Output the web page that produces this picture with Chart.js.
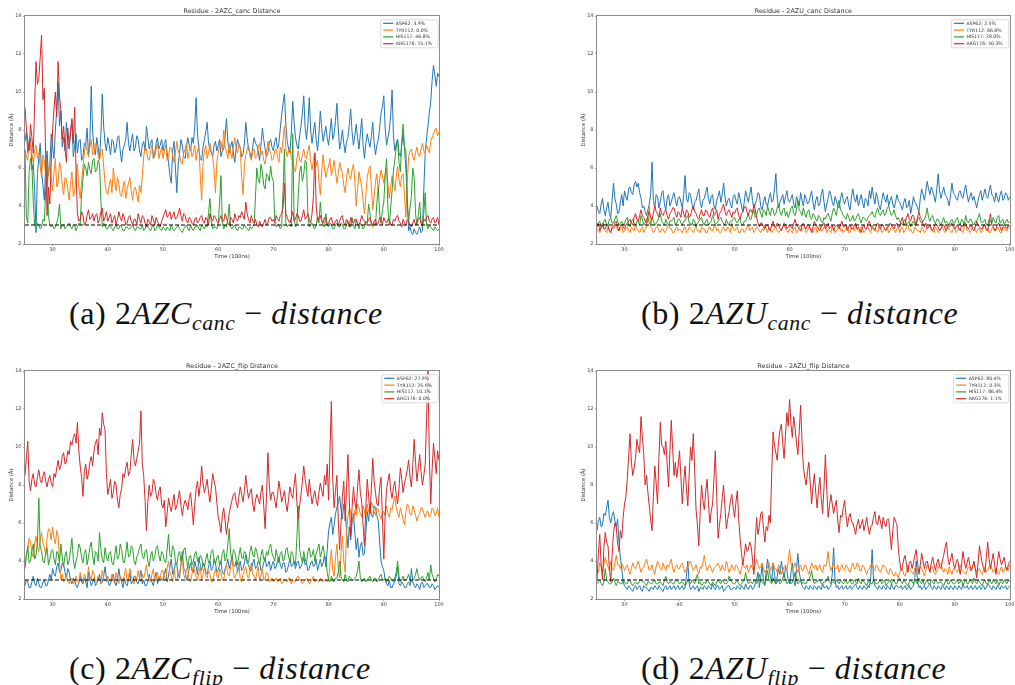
<!DOCTYPE html>
<html>
<head>
<meta charset="utf-8">
<title>Residue distance panels</title>
<script src="https://cdn.jsdelivr.net/npm/chart.js@4.4.1/dist/chart.umd.min.js"></script>
<style>
  html, body { margin: 0; padding: 0; background: #fff; }
  #page { position: relative; width: 1015px; height: 685px; overflow: hidden; background: #fff; }
  canvas { position: absolute; }
  .cap { position: absolute; font-family: "Liberation Serif", "DejaVu Serif", serif; font-size: 32px; line-height: 32px; letter-spacing: 0.6px; color: #111; white-space: nowrap; }
  .cap i { font-style: italic; }
  .cap sub { font-style: italic; font-size: 0.68em; vertical-align: -0.28em; line-height: 0; }
</style>
</head>
<body>
<div id="page">
  <canvas id="pA" width="445" height="262" style="left:0px;top:0px;width:445px;height:262px"></canvas>
  <canvas id="pB" width="444" height="262" style="left:571px;top:0px;width:444px;height:262px"></canvas>
  <canvas id="pC" width="445" height="262" style="left:0px;top:355px;width:445px;height:262px"></canvas>
  <canvas id="pD" width="444" height="262" style="left:571px;top:355px;width:444px;height:262px"></canvas>
  <div class="cap" style="left:69px;top:297px">(a) 2<i>AZC</i><sub>canc</sub> − <i>distance</i></div>
  <div class="cap" style="left:641px;top:297px">(b) 2<i>AZU</i><sub>canc</sub> − <i>distance</i></div>
  <div class="cap" style="left:69px;top:652px">(c) 2<i>AZC</i><sub>flip</sub> − <i>distance</i></div>
  <div class="cap" style="left:641px;top:652px">(d) 2<i>AZU</i><sub>flip</sub> − <i>distance</i></div>
</div>
<script>
// Time axis (units of 100 ns): one sample every 0.25 from 25 to 100
const tStart = 25, tStep = 0.25, tCount = 301;
const xTickValues = [30, 40, 50, 60, 70, 80, 90, 100];
const yTickValues = [2, 4, 6, 8, 10, 12, 14];
const cutoff = 3; // H-bond cutoff distance (Å)

const residues = ['ASP62', 'TYR112', 'HIS117', 'ARG176'];
const residueColors = ['#1f77b4', '#ff7f0e', '#2ca02c', '#d62728'];

const panelTitles = [
  'Residue - 2AZC_canc Distance',
  'Residue - 2AZU_canc Distance',
  'Residue - 2AZC_flip Distance',
  'Residue - 2AZU_flip Distance'
];
const occupancyAzcCanc = ['3.9%', '0.0%', '46.8%', '15.1%'];
const occupancyAzuCanc = ['2.5%', '86.8%', '28.0%', '50.3%'];
const occupancyAzcFlip = ['27.9%', '25.9%', '10.1%', '0.0%'];
const occupancyAzuFlip = ['80.4%', '0.3%', '86.4%', '1.1%'];

// ---- 2AZC_canc ----
const azcCancAsp62 = [
  7.4, 7.9, 6.8, 7.1, 7.6, 5.9, 6.2, 4.8, 2.6, 5.7,
  6.5, 7.3, 5.8, 5.1, 4.3, 6.1, 6.9, 5.6, 6.2, 7.8,
  7.2, 6.5, 8.0, 9.1, 10.5, 8.2, 9.0, 7.1, 7.6, 6.9,
  8.4, 7.3, 7.0, 7.9, 8.5, 6.6, 7.2, 7.8, 6.8, 7.4,
  7.5, 6.4, 6.6, 7.3, 7.2, 8.1, 6.7, 7.4, 10.3, 8.0,
  7.0, 6.7, 7.6, 7.1, 6.5, 7.7, 9.9, 8.2, 7.3, 6.9,
  7.6, 7.2, 6.7, 7.5, 7.4, 6.8, 7.0, 7.6, 7.7, 6.9,
  6.3, 7.0, 7.2, 7.5, 8.4, 7.3, 6.9, 7.4, 7.8, 6.9,
  7.1, 7.7, 7.5, 6.9, 6.6, 7.2, 7.4, 6.9, 8.2, 7.6,
  7.0, 7.3, 7.5, 6.5, 6.8, 7.3, 7.6, 7.0, 7.2, 7.5,
  6.9, 7.3, 7.5, 6.8, 6.3, 5.6, 5.2, 6.9, 7.4, 6.0,
  4.7, 6.2, 6.8, 7.5, 7.2, 6.6, 6.5, 7.1, 7.6, 7.2,
  6.9, 7.6, 7.3, 8.2, 9.7, 7.8, 7.0, 6.5, 6.4, 7.1,
  7.5, 7.9, 8.4, 7.3, 7.0, 6.8, 6.6, 7.2, 7.4, 6.9,
  7.2, 7.5, 6.6, 6.9, 7.0, 7.7, 8.6, 7.4, 6.8, 7.1,
  7.4, 6.8, 6.3, 7.0, 7.5, 7.2, 7.1, 6.6, 6.7, 7.3,
  8.4, 7.6, 7.0, 6.8, 6.5, 7.1, 7.6, 7.3, 7.2, 6.9,
  6.4, 7.2, 8.1, 7.5, 7.0, 6.6, 6.8, 7.3, 7.5, 7.1,
  6.9, 7.4, 7.6, 7.0, 7.3, 8.1, 8.8, 9.4, 9.9, 8.3,
  7.4, 7.0, 6.8, 7.9, 9.5, 8.4, 7.6, 7.2, 7.0, 7.7,
  8.2, 8.9, 9.8, 8.1, 7.5, 8.3, 9.7, 8.0, 7.3, 7.9,
  8.4, 7.5, 6.9, 7.8, 9.0, 8.1, 7.4, 7.8, 8.2, 7.6,
  7.2, 7.9, 8.6, 7.5, 7.8, 8.5, 9.4, 8.1, 7.0, 7.4,
  8.0, 7.3, 6.8, 7.4, 7.6, 8.3, 9.1, 7.9, 7.2, 7.7,
  8.3, 7.6, 7.0, 7.8, 8.6, 7.2, 6.5, 7.3, 7.8, 7.4,
  7.1, 7.7, 8.4, 7.3, 6.7, 7.2, 7.5, 8.1, 8.9, 9.2,
  9.8, 8.1, 7.2, 7.6, 8.0, 8.8, 10.1, 7.7, 6.9, 7.3,
  7.5, 6.8, 6.6, 7.2, 7.8, 7.1, 6.9, 4.5, 2.7, 2.9,
  2.6, 2.5, 2.8, 2.6, 2.5, 2.7, 2.9, 2.6, 2.7, 4.9,
  6.8, 7.6, 8.2, 8.9, 9.5, 10.6, 11.4, 10.9, 10.3, 11.0,
  10.8
];
const azcCancTyr112 = [
  7.0, 6.6, 6.4, 7.5, 7.3, 6.8, 6.2, 6.9, 7.2, 6.5,
  6.8, 6.1, 5.5, 6.7, 6.4, 5.6, 5.0, 5.8, 6.2, 5.5,
  4.8, 5.7, 6.5, 5.0, 5.2, 6.3, 6.0, 5.1, 4.6, 5.5,
  5.4, 4.9, 4.3, 5.2, 5.8, 4.5, 4.8, 5.6, 6.2, 5.0,
  4.4, 5.3, 6.0, 6.8, 7.2, 6.9, 6.6, 7.1, 7.5, 6.7,
  6.8, 7.3, 7.2, 6.6, 6.4, 6.9, 7.0, 6.1, 5.2, 4.7,
  4.6, 5.1, 5.4, 4.7, 6.0, 5.3, 4.8, 5.5, 5.2, 4.6,
  4.5, 5.0, 5.3, 4.4, 4.9, 5.2, 5.5, 4.8, 4.3, 4.9,
  5.0, 4.6, 4.2, 5.1, 4.7, 5.6, 6.6, 7.1, 7.0, 6.5,
  6.4, 6.9, 7.2, 6.7, 6.6, 7.0, 7.3, 6.5, 6.8, 7.1,
  6.5, 6.9, 7.2, 6.4, 6.6, 7.1, 7.0, 6.7, 6.3, 6.8,
  7.4, 6.9, 6.7, 6.3, 6.2, 6.8, 7.0, 7.3, 6.5, 6.9,
  7.1, 6.6, 6.8, 7.2, 6.4, 6.9, 7.2, 5.6, 4.3, 6.2,
  6.9, 7.2, 6.5, 6.8, 7.3, 6.9, 6.6, 5.9, 4.7, 6.3,
  6.8, 7.2, 7.4, 6.9, 8.0, 7.1, 6.9, 6.5, 7.3, 6.8,
  6.5, 7.1, 7.6, 7.0, 6.8, 7.3, 7.0, 5.5, 4.6, 6.1,
  6.7, 7.0, 7.2, 6.6, 6.4, 6.9, 7.0, 6.5, 6.6, 7.1,
  7.3, 6.7, 6.9, 6.4, 6.2, 6.8, 7.4, 7.0, 6.8, 6.4,
  6.5, 6.9, 7.0, 6.6, 6.3, 7.1, 6.8, 7.5, 8.2, 7.0,
  6.6, 6.9, 7.1, 6.5, 6.4, 6.0, 5.8, 6.5, 6.9, 6.4,
  6.3, 6.7, 7.0, 6.6, 6.5, 6.9, 7.2, 6.3, 5.9, 6.4,
  6.8, 6.1, 6.4, 5.3, 4.6, 5.8, 6.7, 6.0, 5.5, 5.9,
  6.1, 6.5, 5.6, 5.9, 6.4, 5.8, 5.2, 5.7, 6.3, 6.0,
  5.7, 5.1, 4.7, 5.5, 6.0, 5.6, 5.4, 5.9, 6.2, 5.3,
  4.0, 4.9, 5.8, 5.4, 5.0, 4.3, 3.6, 4.6, 5.5, 5.9,
  6.1, 5.0, 3.8, 4.5, 5.3, 5.7, 4.8, 5.4, 5.9, 5.6,
  5.2, 5.7, 6.0, 5.1, 4.4, 5.0, 5.6, 5.3, 4.8, 5.5,
  6.1, 5.4, 5.0, 5.6, 5.7, 4.6, 3.4, 5.2, 6.6, 6.9,
  7.0, 6.6, 6.4, 6.8, 7.1, 6.7, 6.6, 7.0, 7.3, 6.9,
  6.8, 7.2, 7.0, 6.8, 7.4, 7.6, 7.8, 8.0, 8.1, 7.7,
  7.9
];
const azcCancHis117 = [
  6.9, 3.4, 3.1, 5.8, 6.5, 6.1, 4.2, 3.0, 2.9, 3.1,
  3.0, 2.8, 2.9, 3.3, 3.2, 4.8, 6.4, 3.5, 3.0, 2.9,
  3.0, 2.8, 2.9, 3.1, 3.4, 4.1, 2.8, 3.0, 3.0, 2.8,
  2.9, 3.0, 3.1, 2.9, 2.8, 3.0, 3.0, 2.7, 2.9, 3.1,
  3.0, 4.6, 5.4, 6.2, 6.0, 5.6, 6.3, 5.9, 5.7, 6.4,
  6.5, 5.8, 5.9, 6.4, 6.2, 4.3, 2.9, 3.1, 3.0, 2.8,
  2.8, 3.0, 2.9, 2.8, 2.7, 2.9, 3.0, 2.8, 2.8, 3.0,
  2.9, 2.7, 2.7, 2.9, 2.9, 2.8, 2.8, 2.9, 3.0, 2.8,
  2.7, 2.9, 2.9, 2.8, 2.8, 3.0, 2.7, 2.8, 3.0, 2.9,
  2.8, 2.7, 2.9, 3.0, 2.7, 2.8, 3.0, 2.9, 2.8, 2.7,
  2.9, 2.8, 2.7, 2.9, 2.8, 2.7, 3.0, 2.8, 2.7, 2.8,
  2.9, 3.0, 2.8, 2.7, 2.6, 2.8, 2.9, 3.0, 2.8, 2.7,
  3.0, 2.8, 2.7, 2.9, 2.9, 3.0, 2.8, 2.7, 3.0, 2.9,
  2.8, 3.0, 2.9, 3.6, 4.4, 3.2, 2.8, 2.9, 2.9, 2.8,
  3.0, 4.2, 5.6, 3.1, 2.8, 3.0, 2.9, 3.3, 4.1, 2.9,
  2.8, 2.9, 3.0, 2.8, 2.7, 2.9, 2.9, 2.8, 2.8, 3.0,
  2.9, 2.8, 2.7, 2.9, 2.8, 2.9, 3.0, 4.5, 6.0, 5.4,
  5.2, 6.2, 5.8, 5.1, 4.9, 5.7, 5.6, 5.3, 6.1, 5.5,
  5.3, 3.2, 2.9, 3.0, 3.0, 2.8, 2.9, 4.8, 7.0, 3.1,
  2.9, 3.0, 3.0, 2.9, 7.8, 3.3, 2.9, 3.0, 4.6, 5.8,
  6.1, 5.3, 5.7, 6.4, 6.3, 3.5, 2.9, 3.0, 3.1, 2.9,
  2.8, 3.0, 3.4, 3.1, 4.2, 3.3, 3.0, 2.9, 3.6, 3.0,
  2.9, 3.1, 3.0, 2.8, 2.8, 3.0, 3.1, 2.9, 2.9, 3.1,
  3.0, 2.8, 2.8, 3.0, 3.2, 2.9, 2.9, 3.4, 3.0, 2.8,
  3.3, 3.0, 2.8, 3.1, 3.0, 2.8, 2.9, 3.2, 3.1, 4.1,
  3.6, 3.0, 2.9, 3.1, 3.0, 4.2, 5.0, 3.6, 3.1, 3.8,
  4.2, 5.6, 6.5, 3.8, 3.0, 3.9, 4.8, 5.9, 6.4, 7.1,
  7.5, 6.3, 5.8, 7.4, 8.3, 7.0, 6.0, 4.1, 3.2, 3.9,
  4.5, 6.0, 5.5, 3.6, 3.0, 3.5, 4.2, 3.1, 2.9, 3.6,
  4.7, 3.0, 2.8, 3.0, 2.9, 2.8, 2.7, 2.9, 2.8, 2.7,
  2.8
];
const azcCancArg176 = [
  9.2, 8.1, 7.4, 6.9, 8.3, 7.6, 6.8, 9.4, 11.6, 10.4,
  10.7, 11.8, 13.0, 9.6, 10.2, 6.5, 3.5, 5.0, 4.1, 6.3,
  8.0, 9.1, 10.0, 8.7, 11.6, 9.8, 9.0, 7.5, 8.2, 7.0,
  6.3, 8.1, 7.2, 7.9, 8.6, 7.3, 9.2, 5.8, 3.6, 3.2,
  3.3, 3.7, 3.5, 3.0, 3.1, 3.5, 3.8, 3.3, 3.4, 3.6,
  3.2, 3.5, 3.6, 3.1, 3.3, 3.7, 3.9, 3.2, 3.4, 3.7,
  3.2, 3.4, 3.6, 3.1, 3.3, 3.5, 3.0, 3.3, 3.7, 3.4,
  3.2, 3.6, 3.4, 3.0, 3.1, 3.4, 3.5, 3.2, 3.0, 3.3,
  3.3, 3.0, 3.6, 3.3, 3.1, 3.5, 3.4, 3.1, 2.9, 3.3,
  3.2, 3.0, 3.5, 3.3, 3.0, 3.4, 3.2, 3.0, 2.9, 3.2,
  3.4, 3.6, 3.8, 3.4, 3.5, 3.7, 3.3, 3.5, 3.7, 3.3,
  3.4, 3.6, 3.9, 3.5, 3.2, 3.6, 3.5, 3.2, 3.1, 3.4,
  3.3, 3.1, 3.0, 3.3, 3.4, 3.1, 3.2, 3.4, 3.5, 3.2,
  3.1, 3.4, 3.3, 3.0, 3.6, 3.3, 3.2, 3.5, 3.4, 3.2,
  3.1, 3.3, 3.5, 3.2, 3.2, 3.6, 3.4, 3.1, 3.0, 3.4,
  3.3, 3.1, 3.6, 3.3, 3.2, 3.5, 3.4, 3.7, 3.5, 3.3,
  4.2, 3.6, 3.3, 3.1, 3.5, 3.2, 3.1, 3.3, 3.0, 2.9,
  3.2, 3.0, 2.9, 3.1, 3.3, 3.0, 3.1, 3.4, 3.4, 3.2,
  3.3, 3.1, 3.5, 3.3, 3.2, 3.5, 3.6, 3.9, 5.2, 3.6,
  3.4, 3.2, 3.1, 3.4, 3.7, 3.2, 3.3, 3.6, 3.5, 3.2,
  3.2, 3.5, 3.8, 3.3, 3.4, 3.6, 3.3, 3.1, 3.6, 4.5,
  6.8, 4.0, 3.2, 3.4, 3.5, 3.2, 3.1, 3.4, 3.3, 3.0,
  3.1, 3.3, 3.4, 3.1, 3.0, 3.2, 3.3, 3.0, 3.2, 3.4,
  3.5, 3.1, 3.0, 3.3, 3.2, 2.9, 3.4, 3.2, 3.1, 3.3,
  3.3, 3.1, 3.0, 3.2, 3.5, 3.3, 3.2, 3.0, 3.1, 3.3,
  3.4, 3.1, 3.0, 3.2, 3.3, 3.0, 3.1, 3.4, 3.2, 3.0,
  3.4, 3.2, 3.1, 3.3, 3.3, 3.0, 3.0, 3.3, 3.2, 3.4,
  3.5, 3.2, 3.1, 2.9, 3.3, 3.1, 3.0, 3.3, 3.2, 3.0,
  2.9, 3.1, 3.3, 3.0, 3.1, 3.3, 3.4, 3.1, 3.0, 3.3,
  3.2, 3.4, 3.5, 3.2, 3.1, 3.3, 3.4, 3.1, 3.2, 3.4,
  3.0
];

// ---- 2AZU_canc ----
const azuCancAsp62 = [
  4.0, 3.7, 3.6, 4.1, 4.4, 3.8, 3.5, 3.9, 4.2, 3.6,
  3.4, 4.3, 5.2, 4.4, 4.1, 3.6, 3.7, 4.2, 4.6, 4.0,
  4.8, 4.5, 4.3, 4.9, 5.0, 4.7, 4.6, 5.1, 5.3, 5.0,
  5.2, 4.7, 4.4, 3.9, 4.0, 3.7, 3.5, 3.8, 4.1, 4.6,
  6.3, 4.3, 3.9, 4.6, 4.5, 3.9, 4.2, 4.7, 4.8, 4.1,
  3.8, 4.4, 4.6, 4.0, 4.2, 4.5, 4.7, 4.3, 4.0, 4.4,
  4.5, 4.2, 3.9, 4.6, 5.6, 4.4, 4.2, 4.7, 4.6, 4.1,
  3.8, 4.2, 4.3, 4.6, 4.9, 4.2, 3.9, 4.3, 4.4, 4.7,
  5.0, 4.4, 4.1, 4.5, 4.6, 4.0, 3.8, 4.3, 4.5, 4.8,
  4.2, 4.6, 5.2, 4.5, 4.0, 4.3, 4.4, 4.1, 3.9, 4.5,
  4.6, 4.3, 4.1, 4.7, 4.4, 4.0, 3.7, 4.2, 4.8, 4.5,
  4.2, 4.6, 5.0, 4.3, 3.9, 4.1, 4.3, 4.7, 4.6, 4.0,
  3.8, 4.2, 4.5, 4.1, 4.0, 4.4, 4.7, 4.2, 4.3, 4.9,
  5.7, 4.4, 3.9, 4.2, 4.4, 4.6, 4.1, 4.5, 4.8, 4.3,
  4.2, 4.4, 4.6, 4.1, 3.9, 4.5, 4.3, 4.0, 4.7, 4.3,
  4.0, 4.6, 4.4, 4.1, 4.2, 4.5, 4.8, 4.2, 3.8, 4.3,
  4.5, 4.0, 4.1, 4.6, 4.9, 4.2, 3.7, 4.1, 4.4, 4.8,
  4.6, 4.2, 4.0, 4.5, 4.3, 4.0, 3.9, 4.4, 4.7, 4.3,
  4.1, 4.4, 4.5, 4.0, 3.8, 4.5, 4.9, 4.4, 4.2, 4.6,
  4.0, 4.3, 4.6, 4.2, 3.9, 4.4, 4.3, 4.0, 4.8, 4.4,
  5.0, 4.5, 4.1, 4.7, 4.4, 4.0, 3.8, 4.3, 4.7, 4.4,
  4.2, 4.6, 4.0, 4.3, 4.5, 4.1, 3.9, 4.2, 4.6, 4.3,
  4.2, 4.0, 3.8, 4.2, 4.4, 3.9, 4.0, 4.3, 3.6, 4.0,
  4.5, 4.2, 4.1, 3.9, 3.7, 4.4, 4.9, 4.6, 4.3, 4.8,
  5.3, 4.9, 4.6, 5.0, 4.8, 4.5, 4.2, 4.9, 5.7, 4.8,
  4.4, 4.7, 5.0, 4.6, 4.5, 4.3, 4.0, 4.6, 5.2, 4.7,
  4.6, 4.4, 4.3, 4.7, 4.8, 4.5, 4.4, 4.8, 5.1, 4.6,
  4.2, 4.5, 4.7, 4.3, 4.5, 4.2, 3.9, 4.3, 4.6, 4.8,
  4.3, 4.6, 4.9, 4.5, 4.4, 4.8, 5.1, 4.6, 4.5, 4.2,
  4.7, 4.4, 4.2, 4.6, 4.8, 4.3, 4.4, 4.7, 4.6, 4.3,
  4.5
];
const azuCancTyr112 = [
  2.8, 2.7, 2.6, 2.9, 3.0, 2.8, 2.7, 2.6, 2.9, 2.7,
  2.6, 2.8, 2.8, 2.9, 3.0, 2.7, 2.7, 2.8, 2.9, 2.6,
  2.7, 2.8, 2.9, 2.7, 2.6, 2.9, 2.8, 2.7, 3.0, 2.8,
  2.7, 2.6, 2.8, 2.9, 2.6, 2.8, 2.9, 3.3, 4.0, 2.9,
  2.8, 2.6, 2.7, 2.9, 2.9, 2.7, 2.6, 2.8, 2.8, 2.6,
  2.7, 2.9, 3.0, 2.8, 2.8, 2.6, 2.6, 2.8, 2.9, 2.7,
  2.8, 2.7, 2.6, 2.8, 2.9, 2.6, 2.7, 2.9, 2.8, 2.7,
  2.6, 2.8, 3.0, 2.7, 2.7, 2.6, 2.9, 2.8, 2.8, 2.6,
  2.6, 2.8, 2.9, 2.7, 2.7, 2.9, 3.0, 2.7, 2.8, 2.6,
  2.6, 2.8, 2.9, 2.7, 2.7, 2.9, 2.8, 2.6, 3.1, 2.8,
  2.7, 2.8, 2.9, 2.6, 2.6, 2.8, 2.8, 2.6, 2.7, 2.9,
  3.0, 2.7, 2.8, 2.9, 2.6, 2.7, 2.9, 2.8, 2.7, 2.6,
  2.8, 2.7, 3.0, 2.8, 2.6, 2.9, 2.8, 2.6, 2.7, 2.8,
  2.9, 2.7, 2.6, 2.7, 2.8, 2.9, 3.0, 2.8, 2.7, 2.6,
  2.8, 2.7, 2.6, 2.8, 2.9, 2.6, 2.7, 2.9, 3.0, 2.7,
  2.8, 2.9, 2.6, 2.7, 2.9, 2.8, 2.7, 2.6, 2.8, 2.9,
  2.6, 2.8, 3.0, 2.7, 2.7, 2.9, 2.9, 2.6, 2.8, 2.7,
  2.6, 2.9, 2.8, 2.6, 2.7, 2.8, 3.0, 2.7, 2.8, 2.6,
  2.7, 2.8, 2.9, 2.6, 2.6, 2.9, 2.8, 2.7, 3.0, 2.8,
  2.7, 2.6, 2.9, 2.8, 2.6, 2.7, 2.8, 2.9, 2.7, 2.6,
  3.0, 2.8, 2.8, 2.7, 2.6, 2.9, 2.9, 2.6, 2.7, 2.8,
  2.8, 2.9, 2.6, 2.7, 2.9, 2.8, 2.7, 2.6, 2.8, 2.9,
  2.6, 2.8, 2.9, 2.6, 2.7, 2.9, 3.0, 2.7, 2.8, 2.6,
  2.6, 2.9, 2.8, 2.7, 2.7, 2.6, 2.9, 2.8, 2.6, 2.7,
  2.8, 2.9, 3.0, 2.7, 2.7, 2.6, 2.9, 2.8, 2.6, 2.7,
  2.8, 2.9, 2.7, 2.6, 3.0, 2.8, 2.8, 2.7, 2.6, 2.8,
  2.9, 2.6, 2.7, 2.8, 2.8, 2.7, 2.6, 2.9, 3.0, 2.7,
  2.8, 2.6, 2.7, 2.9, 2.9, 2.7, 2.6, 2.8, 2.8, 2.6,
  2.7, 2.9, 3.0, 2.7, 2.8, 2.6, 2.6, 2.8, 2.9, 2.7,
  2.7, 2.9, 2.8, 2.6, 2.6, 2.8, 2.9, 2.7, 2.7, 2.9,
  2.8
];
const azuCancHis117 = [
  3.0, 3.1, 3.2, 2.9, 2.9, 3.2, 3.3, 3.0, 3.0, 3.3,
  3.4, 3.1, 3.1, 3.3, 3.5, 3.2, 3.0, 3.1, 3.2, 3.0,
  3.1, 3.3, 3.4, 3.0, 2.9, 3.2, 3.3, 3.1, 3.0, 3.2,
  3.2, 3.0, 3.5, 3.3, 3.0, 3.1, 3.3, 3.4, 3.1, 3.0,
  3.4, 3.2, 3.0, 3.1, 3.2, 3.4, 3.6, 3.2, 3.1, 3.0,
  3.3, 3.1, 3.0, 3.2, 3.2, 3.3, 3.4, 3.0, 3.1, 3.3,
  3.3, 3.1, 3.0, 3.2, 3.2, 3.4, 3.5, 3.1, 3.1, 3.0,
  3.3, 3.2, 2.9, 3.1, 3.2, 3.3, 3.4, 3.1, 3.0, 3.2,
  3.3, 3.0, 3.1, 3.2, 3.5, 3.3, 3.0, 3.1, 3.2, 3.3,
  3.4, 3.2, 3.1, 3.0, 3.3, 3.1, 3.0, 3.2, 3.2, 3.3,
  3.4, 3.2, 3.1, 3.3, 3.3, 3.0, 3.0, 3.2, 3.2, 3.4,
  3.6, 3.3, 3.3, 3.6, 3.8, 3.4, 3.5, 3.8, 3.9, 3.6,
  3.4, 3.8, 3.7, 3.5, 4.0, 3.7, 3.5, 3.9, 3.8, 3.5,
  3.6, 3.9, 4.1, 3.7, 3.5, 3.8, 3.9, 3.5, 3.7, 3.4,
  3.6, 3.9, 4.0, 3.6, 3.5, 3.8, 4.3, 3.8, 3.7, 3.5,
  3.9, 3.6, 3.4, 3.7, 3.8, 3.4, 3.3, 3.6, 3.5, 3.3,
  3.2, 3.5, 3.4, 3.2, 3.1, 3.4, 3.3, 3.5, 3.6, 3.4,
  3.2, 3.6, 3.9, 3.7, 3.5, 4.0, 4.3, 3.8, 3.7, 3.5,
  3.4, 3.3, 3.6, 3.4, 3.2, 3.3, 3.5, 3.2, 3.3, 3.5,
  3.6, 3.3, 3.1, 3.4, 3.4, 3.3, 3.2, 3.4, 3.5, 3.6,
  3.7, 3.5, 3.4, 3.7, 3.9, 3.6, 3.5, 3.7, 3.8, 3.5,
  3.6, 3.9, 4.0, 3.7, 3.5, 3.6, 3.8, 3.5, 3.3, 3.4,
  3.2, 3.1, 3.0, 3.2, 3.3, 3.0, 3.1, 3.2, 2.9, 3.1,
  3.2, 3.0, 3.0, 3.3, 3.4, 3.2, 3.1, 3.2, 3.3, 3.5,
  3.9, 3.4, 3.2, 3.4, 3.5, 3.2, 3.1, 3.3, 3.3, 3.1,
  3.0, 3.2, 3.4, 3.1, 3.2, 3.1, 3.0, 3.2, 3.3, 3.1,
  3.1, 3.3, 3.4, 3.1, 3.0, 3.3, 3.2, 3.0, 3.5, 3.2,
  3.1, 3.3, 3.3, 3.1, 3.0, 3.2, 3.2, 3.4, 3.6, 3.2,
  3.1, 3.2, 3.3, 3.0, 3.0, 3.3, 3.2, 3.1, 3.4, 3.2,
  3.1, 3.4, 3.5, 3.1, 3.2, 3.3, 3.0, 3.2, 3.3, 3.1,
  3.2
];
const azuCancArg176 = [
  2.9, 3.1, 2.7, 2.9, 3.1, 2.8, 2.8, 3.0, 3.0, 2.7,
  2.6, 2.9, 2.9, 3.1, 3.2, 2.9, 2.7, 3.0, 3.0, 2.9,
  2.8, 3.0, 3.1, 3.2, 3.3, 3.1, 3.0, 3.4, 3.6, 3.3,
  3.2, 3.5, 3.8, 3.5, 3.4, 3.2, 3.1, 3.5, 3.7, 3.4,
  3.3, 3.6, 4.0, 3.7, 3.6, 3.4, 3.9, 3.6, 3.5, 3.7,
  3.8, 3.5, 3.3, 3.6, 3.7, 3.9, 3.9, 3.6, 3.4, 3.7,
  3.6, 3.4, 3.9, 3.6, 3.4, 3.8, 3.7, 3.4, 3.5, 3.8,
  4.0, 3.7, 3.6, 3.4, 3.3, 3.6, 3.8, 3.5, 3.5, 3.8,
  3.7, 3.5, 3.4, 3.7, 3.9, 3.5, 3.6, 3.8, 3.3, 3.6,
  3.7, 3.9, 4.1, 3.7, 3.5, 3.7, 3.8, 3.6, 3.4, 3.7,
  3.6, 3.8, 3.9, 3.5, 3.3, 3.6, 3.7, 3.9, 4.0, 3.7,
  3.5, 3.8, 3.8, 3.6, 4.1, 3.8, 3.4, 3.1, 2.9, 3.1,
  3.1, 2.9, 2.8, 3.0, 3.0, 2.8, 2.7, 3.0, 3.2, 2.9,
  2.9, 3.1, 3.0, 2.8, 2.7, 2.9, 3.1, 3.0, 2.8, 2.9,
  3.0, 2.9, 2.8, 3.1, 3.3, 3.0, 2.9, 2.8, 2.7, 3.0,
  3.1, 2.9, 2.8, 3.0, 3.0, 2.8, 2.6, 2.9, 3.2, 3.0,
  2.9, 2.8, 2.7, 2.9, 3.0, 3.1, 2.8, 2.9, 3.1, 2.8,
  2.9, 3.0, 2.7, 2.9, 3.0, 2.9, 2.8, 3.0, 3.2, 2.9,
  2.9, 3.0, 2.7, 2.9, 3.0, 2.8, 2.8, 3.0, 3.1, 2.8,
  2.9, 2.7, 2.6, 2.9, 3.0, 2.8, 2.8, 3.1, 3.2, 2.9,
  2.9, 2.8, 2.7, 3.0, 3.1, 2.9, 2.8, 3.0, 3.0, 2.8,
  2.7, 2.9, 2.9, 3.1, 3.0, 2.9, 2.8, 3.0, 3.1, 2.9,
  2.9, 3.2, 3.4, 3.0, 3.1, 3.4, 3.6, 3.3, 3.2, 3.5,
  3.5, 3.2, 3.0, 3.4, 3.7, 3.4, 3.3, 3.0, 2.9, 3.1,
  2.8, 2.9, 3.0, 2.8, 2.7, 2.9, 3.1, 3.0, 2.9, 2.7,
  2.8, 3.0, 3.0, 2.8, 2.7, 2.9, 2.9, 3.0, 3.1, 2.9,
  2.8, 2.9, 3.0, 2.8, 2.7, 3.0, 2.9, 3.1, 3.1, 2.9,
  2.8, 2.9, 3.0, 2.8, 2.7, 2.9, 3.2, 3.0, 2.9, 2.8,
  2.8, 3.0, 3.0, 2.8, 2.7, 3.1, 3.6, 3.0, 2.9, 2.7,
  2.8, 3.0, 3.1, 2.9, 2.7, 2.9, 3.0, 2.9, 2.8, 3.0,
  2.9
];

// ---- 2AZC_flip ----
const azcFlipAsp62 = [
  2.7, 3.0, 2.9, 2.6, 2.6, 2.9, 3.2, 2.8, 2.7, 3.1,
  2.8, 2.6, 2.6, 2.9, 3.0, 2.7, 2.7, 3.0, 3.3, 3.0,
  3.6, 3.3, 3.2, 3.7, 3.9, 3.4, 3.5, 3.9, 3.8, 3.4,
  3.1, 3.6, 3.4, 3.0, 2.8, 3.1, 3.0, 2.7, 2.6, 2.9,
  3.2, 2.9, 2.8, 3.1, 2.9, 2.6, 3.4, 3.0, 2.7, 2.9,
  3.1, 2.7, 2.8, 3.0, 3.3, 2.8, 2.9, 3.2, 3.7, 3.1,
  3.0, 2.7, 2.8, 3.1, 3.3, 2.9, 2.7, 3.0, 3.6, 3.1,
  2.9, 2.6, 3.1, 2.8, 2.7, 3.0, 3.4, 2.8, 2.9, 3.2,
  3.2, 2.9, 2.8, 3.1, 3.5, 2.8, 3.0, 2.7, 2.7, 2.9,
  3.3, 3.0, 2.9, 2.7, 3.1, 3.4, 2.8, 3.0, 3.2, 3.0,
  3.0, 3.3, 3.6, 2.9, 3.2, 3.7, 4.1, 3.3, 3.4, 3.9,
  3.8, 3.3, 3.1, 3.9, 4.5, 3.6, 3.5, 3.0, 3.2, 3.6,
  3.9, 3.5, 3.4, 4.0, 3.7, 3.3, 4.2, 3.8, 3.5, 3.9,
  3.8, 3.4, 3.3, 3.7, 4.0, 3.5, 3.6, 4.1, 3.9, 3.4,
  3.5, 3.8, 4.0, 3.4, 3.3, 3.6, 3.8, 4.1, 3.6, 3.9,
  4.2, 3.8, 3.7, 4.0, 3.4, 3.7, 4.0, 3.5, 3.6, 3.9,
  4.3, 3.9, 3.8, 3.5, 3.5, 3.9, 4.1, 3.6, 3.7, 4.0,
  3.9, 3.5, 3.6, 3.9, 4.2, 3.7, 3.8, 4.0, 3.5, 3.8,
  4.0, 3.6, 3.7, 4.0, 4.2, 3.8, 3.6, 3.9, 3.9, 3.4,
  3.5, 3.8, 4.1, 3.7, 3.8, 4.0, 3.6, 3.9, 4.0, 3.6,
  3.7, 3.9, 4.2, 3.8, 3.9, 3.5, 3.6, 3.9, 4.0, 3.7,
  3.8, 4.1, 3.5, 3.8, 4.1, 3.7, 3.9, 4.3, 3.7, 4.6,
  5.6, 6.0, 6.3, 5.4, 5.9, 6.5, 6.8, 7.1, 7.4, 6.7,
  6.2, 7.0, 6.9, 5.6, 4.7, 5.8, 5.1, 6.0, 6.5, 5.5,
  4.6, 5.2, 4.2, 4.8, 5.0, 4.3, 4.4, 5.5, 6.6, 6.1,
  7.0, 6.4, 6.3, 6.9, 6.8, 6.4, 6.1, 5.0, 4.0, 3.7,
  3.5, 3.0, 2.8, 2.7, 3.0, 2.6, 2.6, 2.8, 2.9, 3.2,
  3.7, 2.8, 2.7, 2.9, 2.8, 2.6, 2.6, 2.8, 2.9, 2.7,
  3.6, 2.9, 2.7, 2.6, 2.8, 2.7, 2.5, 2.8, 2.9, 2.6,
  2.7, 2.8, 2.8, 2.6, 2.6, 2.8, 2.7, 2.5, 2.6, 2.7,
  2.6
];
const azcFlipTyr112 = [
  3.8, 4.3, 4.6, 5.2, 5.0, 4.4, 4.2, 4.9, 5.3, 4.8,
  4.5, 5.1, 5.5, 4.9, 4.7, 4.3, 5.2, 5.7, 5.6, 5.1,
  5.8, 5.2, 4.9, 5.6, 5.3, 3.9, 3.0, 3.3, 2.9, 3.0,
  3.2, 2.9, 2.8, 3.0, 3.1, 2.8, 2.9, 3.2, 3.0, 2.8,
  3.4, 3.0, 2.9, 3.3, 3.1, 2.9, 3.7, 3.2, 3.0, 3.5,
  3.3, 2.9, 2.9, 3.2, 3.1, 2.8, 3.5, 3.1, 3.0, 2.9,
  3.2, 3.0, 2.9, 3.3, 3.0, 2.8, 3.4, 3.0, 2.8, 3.2,
  3.1, 2.9, 3.3, 3.6, 2.9, 3.1, 3.6, 3.2, 3.0, 2.8,
  3.2, 3.0, 3.5, 3.1, 2.9, 3.3, 3.1, 3.4, 3.8, 3.2,
  3.0, 2.9, 3.3, 3.6, 2.9, 3.1, 3.4, 3.0, 3.1, 3.5,
  3.5, 3.2, 3.0, 3.6, 4.0, 3.4, 3.2, 2.9, 3.6, 3.1,
  3.0, 3.4, 3.3, 3.8, 4.2, 3.3, 3.1, 3.6, 3.5, 3.0,
  2.9, 3.3, 3.8, 3.4, 3.2, 3.0, 3.4, 3.7, 3.0, 3.3,
  3.7, 3.2, 3.1, 3.5, 3.3, 2.9, 2.9, 3.3, 3.6, 3.2,
  3.1, 3.6, 3.4, 3.0, 3.0, 3.5, 3.8, 3.3, 3.2, 3.7,
  4.3, 3.4, 3.1, 3.3, 3.5, 3.9, 3.0, 2.9, 3.3, 3.5,
  3.7, 3.2, 3.1, 3.5, 3.9, 3.3, 3.2, 3.0, 3.4, 3.7,
  3.0, 3.2, 3.6, 3.0, 3.1, 3.4, 3.3, 2.9, 3.0, 3.1,
  2.9, 3.0, 3.1, 2.9, 3.0, 3.1, 2.8, 2.9, 3.0, 3.0,
  2.9, 3.1, 3.1, 2.8, 3.0, 2.9, 2.9, 3.1, 3.2, 3.0,
  3.0, 2.8, 2.9, 3.0, 3.1, 3.0, 2.8, 2.9, 3.0, 3.2,
  2.9, 3.0, 3.0, 2.9, 3.1, 3.0, 2.9, 3.0, 3.0, 2.9,
  3.0, 3.8, 4.6, 3.5, 3.2, 4.2, 4.9, 3.6, 3.1, 4.4,
  5.3, 4.0, 3.4, 5.5, 6.3, 6.8, 6.6, 6.2, 6.0, 6.7,
  6.4, 7.0, 6.8, 6.5, 6.3, 6.9, 6.6, 6.3, 7.0, 6.6,
  6.5, 7.1, 6.9, 6.6, 6.4, 6.8, 6.7, 6.4, 6.2, 6.6,
  6.6, 6.4, 6.9, 6.5, 6.3, 6.8, 6.7, 7.1, 7.4, 6.8,
  6.5, 6.3, 6.8, 6.5, 6.2, 5.9, 6.6, 7.0, 6.9, 6.5,
  6.4, 6.9, 6.7, 6.4, 6.1, 6.4, 6.5, 6.8, 6.8, 6.5,
  6.3, 6.6, 6.6, 6.3, 6.4, 6.8, 6.7, 6.4, 6.5, 6.8,
  6.3
];
const azcFlipHis117 = [
  3.6, 4.3, 4.8, 3.9, 4.0, 4.5, 4.9, 4.1, 4.3, 5.0,
  7.3, 4.8, 4.5, 4.0, 3.9, 4.4, 4.7, 3.8, 4.1, 4.5,
  4.6, 4.1, 3.8, 4.5, 4.4, 3.9, 4.9, 4.2, 3.7, 4.3,
  4.5, 3.8, 4.0, 4.6, 5.2, 4.1, 3.6, 4.0, 4.3, 4.9,
  4.7, 4.2, 3.9, 4.4, 4.6, 3.8, 4.2, 4.7, 5.0, 4.3,
  3.8, 4.5, 4.4, 4.0, 5.5, 4.6, 4.1, 3.9, 4.7, 4.2,
  4.0, 4.4, 4.5, 3.9, 3.8, 4.3, 4.8, 4.1, 4.2, 4.9,
  4.6, 4.0, 3.9, 4.4, 5.0, 4.2, 4.3, 4.8, 4.7, 4.0,
  3.8, 4.2, 4.4, 4.7, 4.9, 4.3, 4.1, 4.5, 4.6, 4.0,
  3.7, 4.3, 4.5, 4.0, 4.2, 4.7, 4.8, 4.3, 4.0, 4.5,
  4.4, 4.0, 3.9, 4.6, 5.4, 4.3, 4.2, 4.8, 4.6, 4.0,
  3.8, 4.3, 4.5, 4.0, 4.1, 4.6, 4.7, 4.1, 3.6, 4.2,
  4.3, 3.8, 4.0, 4.4, 4.5, 4.0, 3.9, 4.3, 4.2, 3.8,
  3.7, 4.1, 4.4, 3.9, 4.0, 4.5, 4.6, 4.1, 3.8, 4.2,
  4.3, 3.8, 3.9, 4.4, 4.6, 4.0, 4.2, 4.9, 5.7, 4.4,
  4.0, 4.6, 4.5, 4.1, 3.8, 4.3, 4.7, 4.2, 4.1, 4.5,
  4.4, 4.0, 3.9, 4.5, 4.8, 4.3, 4.2, 4.7, 4.5, 4.1,
  3.8, 4.3, 4.6, 4.1, 4.0, 4.5, 4.3, 4.7, 4.9, 4.4,
  4.2, 4.0, 4.6, 4.2, 3.9, 4.4, 4.5, 4.0, 4.1, 4.6,
  4.7, 4.2, 4.0, 4.5, 4.4, 3.9, 3.8, 5.2, 6.9, 4.6,
  4.2, 3.9, 4.5, 4.1, 3.9, 4.5, 4.7, 4.2, 4.3, 4.6,
  4.0, 4.4, 4.6, 4.9, 4.2, 4.5, 4.8, 4.3, 4.1, 3.4,
  3.0, 2.9, 3.2, 3.0, 2.9, 3.1, 3.1, 3.4, 4.0, 3.2,
  3.0, 2.9, 3.3, 3.0, 2.9, 3.2, 3.1, 3.0, 3.0, 3.1,
  3.2, 3.5, 4.0, 3.1, 2.9, 3.0, 3.1, 2.9, 3.0, 3.1,
  3.2, 3.0, 2.9, 3.1, 3.1, 2.9, 3.0, 3.2, 3.3, 3.0,
  3.0, 3.1, 2.9, 3.0, 3.2, 3.1, 3.0, 2.9, 3.1, 3.4,
  4.0, 3.2, 2.9, 3.0, 3.2, 3.0, 3.0, 3.1, 3.3, 3.0,
  2.9, 3.0, 3.1, 3.3, 3.6, 3.2, 3.0, 3.1, 3.2, 3.0,
  2.9, 3.1, 3.4, 3.0, 3.8, 3.3, 3.1, 2.9, 3.0, 3.3,
  3.2
];
const azcFlipArg176 = [
  8.5, 9.4, 10.3, 8.2, 7.7, 8.3, 8.6, 8.0, 7.9, 8.4,
  8.8, 8.3, 8.1, 8.5, 8.7, 8.2, 7.9, 8.3, 8.5, 8.1,
  7.9, 8.6, 8.4, 8.9, 9.3, 8.8, 9.0, 9.5, 9.7, 9.1,
  9.2, 9.8, 9.6, 10.3, 10.1, 10.5, 10.7, 10.2, 11.3, 9.8,
  9.0, 8.4, 7.4, 8.7, 9.1, 8.3, 8.6, 9.2, 9.5, 9.0,
  9.8, 10.2, 10.4, 9.6, 11.0, 10.6, 11.8, 11.2, 10.9, 8.6,
  7.5, 7.9, 8.3, 7.3, 7.6, 8.2, 8.0, 7.2, 6.8, 7.5,
  7.8, 8.6, 8.4, 8.9, 9.2, 8.5, 8.7, 9.6, 10.4, 9.3,
  9.0, 9.4, 9.8, 10.2, 11.9, 9.1, 8.5, 7.2, 5.6, 7.1,
  8.0, 7.4, 7.6, 8.3, 8.1, 7.5, 7.2, 7.7, 7.9, 7.0,
  6.8, 7.2, 5.8, 6.5, 7.3, 6.9, 6.6, 7.1, 7.5, 6.7,
  6.9, 7.3, 7.7, 6.9, 6.4, 6.9, 7.2, 7.0, 6.7, 7.3,
  7.6, 6.8, 5.9, 7.0, 7.8, 8.2, 7.4, 8.0, 9.0, 8.1,
  7.6, 7.9, 8.3, 7.6, 7.1, 7.8, 8.6, 8.2, 7.9, 7.1,
  6.3, 6.0, 5.5, 6.4, 6.8, 6.1, 5.4, 6.0, 6.5, 6.9,
  7.2, 7.5, 7.6, 7.1, 6.8, 7.4, 7.9, 7.5, 7.1, 7.7,
  8.5, 7.8, 7.3, 7.6, 7.8, 7.0, 6.6, 7.2, 7.5, 7.3,
  7.0, 7.6, 8.0, 6.9, 5.7, 7.4, 9.7, 8.0, 7.2, 7.6,
  7.6, 7.2, 6.8, 7.5, 8.2, 7.7, 7.1, 7.4, 7.7, 7.0,
  6.6, 7.3, 7.9, 7.5, 7.3, 8.0, 8.6, 7.1, 6.2, 6.9,
  7.5, 8.2, 9.0, 8.3, 7.8, 7.4, 8.3, 7.6, 7.0, 7.4,
  7.7, 7.2, 6.9, 7.6, 8.1, 7.7, 7.4, 8.5, 8.0, 9.1,
  7.2, 9.8, 12.4, 8.3, 6.8, 7.7, 8.5, 6.2, 4.6, 6.0,
  7.4, 8.2, 6.1, 7.8, 9.6, 7.2, 5.3, 6.8, 7.9, 7.1,
  6.7, 7.9, 8.8, 7.6, 7.1, 5.9, 4.8, 6.9, 8.3, 7.4,
  6.5, 7.8, 9.4, 8.2, 7.6, 7.0, 6.9, 7.9, 8.4, 6.3,
  4.1, 6.5, 7.8, 8.2, 8.6, 7.7, 7.3, 7.9, 8.2, 7.5,
  7.0, 7.8, 8.9, 8.3, 7.6, 8.1, 8.4, 8.8, 9.3, 8.4,
  7.9, 9.0, 10.4, 9.2, 8.2, 8.9, 9.6, 8.7, 8.0, 8.5,
  9.1, 11.5, 14.0, 9.5, 7.0, 8.8, 10.2, 9.4, 8.6, 9.8,
  9.3
];

// ---- 2AZU_flip ----
const azuFlipAsp62 = [
  5.6, 6.1, 6.3, 5.8, 5.9, 6.5, 6.4, 6.8, 7.2, 6.3,
  6.0, 6.4, 6.6, 6.1, 5.8, 6.2, 5.0, 4.2, 3.6, 2.9,
  2.7, 2.6, 2.5, 2.7, 2.6, 2.5, 2.4, 2.6, 2.7, 2.5,
  2.6, 2.7, 2.5, 2.4, 2.7, 2.6, 2.6, 2.5, 2.4, 2.6,
  2.6, 2.5, 2.7, 2.6, 2.5, 2.7, 2.6, 2.5, 2.4, 2.6,
  2.7, 2.5, 2.6, 2.7, 2.5, 2.6, 2.7, 2.5, 2.6, 2.7,
  2.5, 2.6, 2.7, 2.5, 2.6, 3.2, 4.0, 2.8, 2.5, 2.6,
  2.7, 2.5, 2.6, 2.7, 2.4, 2.6, 2.6, 2.5, 2.7, 2.6,
  2.5, 2.7, 2.6, 2.5, 2.8, 2.6, 2.5, 2.7, 2.7, 2.5,
  2.6, 2.7, 2.4, 2.5, 2.6, 2.7, 2.7, 2.5, 2.5, 2.6,
  2.6, 2.5, 2.7, 2.6, 2.5, 2.7, 2.6, 2.5, 2.8, 2.6,
  2.5, 2.7, 2.7, 2.5, 2.6, 2.8, 3.0, 3.4, 2.6, 3.1,
  3.8, 3.0, 2.7, 3.5, 4.1, 3.6, 3.2, 2.9, 3.9, 3.3,
  2.8, 3.2, 3.6, 3.3, 4.0, 3.5, 3.1, 3.7, 3.5, 3.0,
  2.8, 3.4, 3.9, 3.0, 2.7, 3.6, 4.4, 3.4, 3.0, 2.7,
  2.6, 2.5, 2.7, 2.6, 2.5, 2.7, 2.6, 2.5, 2.7, 2.6,
  2.5, 2.7, 2.6, 2.5, 2.8, 2.6, 2.6, 2.7, 2.5, 2.6,
  2.7, 3.3, 4.7, 3.0, 2.6, 2.7, 2.5, 2.6, 2.7, 2.5,
  2.6, 2.7, 2.5, 2.6, 2.7, 2.5, 2.6, 2.7, 2.8, 2.6,
  2.5, 2.7, 2.6, 2.5, 2.7, 2.6, 2.5, 2.7, 2.6, 3.2,
  4.6, 3.0, 2.7, 2.6, 2.5, 2.7, 2.6, 2.5, 2.7, 2.6,
  2.5, 2.7, 2.6, 2.5, 2.8, 2.6, 2.5, 2.7, 2.7, 2.6,
  2.6, 2.7, 2.5, 2.6, 2.7, 2.5, 2.6, 2.7, 2.5, 2.6,
  2.7, 3.1, 4.0, 2.9, 2.6, 2.7, 2.5, 2.6, 2.7, 2.5,
  2.6, 2.7, 2.8, 2.6, 2.5, 2.7, 2.6, 2.5, 2.7, 2.6,
  2.5, 2.7, 2.6, 2.5, 2.7, 2.6, 2.5, 2.7, 2.6, 2.5,
  2.7, 2.6, 2.5, 2.7, 2.6, 2.5, 2.8, 2.6, 2.6, 2.7,
  2.5, 2.6, 2.7, 2.5, 2.6, 2.7, 2.5, 2.6, 2.7, 2.5,
  2.6, 2.7, 2.5, 2.6, 2.8, 2.7, 2.6, 2.5, 2.7, 2.6,
  2.5, 2.7, 2.6, 2.5, 2.7, 2.6, 2.6, 2.7, 2.5, 2.6,
  2.7
];
const azuFlipTyr112 = [
  3.6, 3.4, 3.9, 3.7, 3.4, 3.8, 4.2, 3.9, 3.7, 3.5,
  4.0, 3.6, 3.5, 3.9, 4.3, 3.8, 3.8, 3.6, 3.9, 3.7,
  3.5, 3.7, 3.8, 3.5, 3.3, 3.6, 3.9, 3.7, 3.6, 3.8,
  4.0, 3.7, 3.4, 3.6, 3.7, 3.9, 4.1, 3.8, 3.5, 3.6,
  3.8, 3.5, 3.3, 3.7, 4.0, 3.8, 3.6, 3.5, 3.9, 3.7,
  3.5, 3.8, 3.7, 3.9, 4.1, 3.6, 3.4, 3.7, 3.8, 3.6,
  3.6, 3.8, 3.9, 3.6, 3.4, 3.6, 3.7, 3.9, 4.0, 3.7,
  3.5, 3.6, 3.8, 3.5, 3.3, 3.7, 3.6, 3.9, 4.3, 3.8,
  3.5, 3.7, 3.8, 3.6, 3.4, 3.6, 3.7, 3.8, 3.9, 3.7,
  3.5, 3.8, 3.6, 3.5, 4.0, 3.7, 3.4, 3.6, 3.8, 3.6,
  3.5, 3.8, 3.7, 3.5, 3.3, 3.6, 3.9, 3.7, 3.6, 3.8,
  3.4, 3.6, 3.8, 3.6, 3.5, 3.8, 4.1, 3.8, 3.6, 3.7,
  3.9, 3.6, 3.4, 3.5, 3.7, 3.9, 3.5, 3.7, 3.9, 3.6,
  3.6, 3.4, 3.8, 3.6, 3.3, 3.5, 3.7, 3.8, 3.5, 4.0,
  4.6, 3.8, 3.6, 3.7, 3.9, 3.6, 3.4, 3.7, 3.8, 3.5,
  3.5, 3.8, 3.7, 3.5, 3.3, 3.6, 3.9, 3.7, 3.6, 3.8,
  3.5, 3.7, 3.8, 3.5, 3.4, 3.8, 3.7, 3.9, 4.5, 3.8,
  3.5, 3.7, 3.9, 3.6, 3.6, 3.8, 3.4, 3.6, 3.8, 3.6,
  3.5, 3.8, 3.7, 3.5, 3.4, 3.7, 3.9, 3.6, 3.6, 3.9,
  3.8, 3.5, 3.5, 3.8, 3.7, 3.5, 3.3, 3.5, 3.6, 3.8,
  3.9, 3.6, 3.5, 3.8, 3.7, 3.5, 3.4, 3.6, 3.8, 3.7,
  3.6, 3.4, 3.3, 3.6, 3.5, 3.3, 3.2, 3.4, 3.3, 3.1,
  3.4, 3.5, 3.6, 3.3, 3.2, 3.5, 3.8, 3.6, 3.5, 3.4,
  3.3, 3.6, 3.7, 3.5, 3.4, 3.7, 3.6, 3.4, 3.2, 3.5,
  3.8, 3.6, 3.5, 3.7, 3.7, 3.4, 3.3, 3.5, 3.6, 3.8,
  3.9, 3.6, 3.4, 3.6, 3.5, 3.3, 3.7, 3.5, 3.3, 3.6,
  3.6, 3.5, 3.4, 3.6, 3.8, 3.6, 3.5, 3.4, 3.3, 3.5,
  3.7, 3.6, 3.5, 3.7, 3.9, 3.6, 3.4, 3.5, 3.6, 3.4,
  3.3, 3.5, 3.7, 3.4, 3.5, 3.7, 3.8, 3.6, 3.4, 3.5,
  3.6, 3.4, 3.3, 3.5, 3.7, 3.4, 3.5, 3.7, 3.6, 3.5,
  3.8
];
const azuFlipHis117 = [
  2.8, 2.9, 3.0, 2.8, 2.7, 2.9, 3.6, 3.0, 2.9, 2.8,
  2.8, 2.9, 3.1, 2.9, 2.7, 2.9, 2.9, 2.8, 2.8, 3.0,
  2.9, 2.8, 2.8, 3.0, 3.0, 2.8, 2.7, 2.8, 2.9, 2.8,
  2.8, 3.0, 3.0, 2.9, 2.9, 2.8, 2.7, 2.9, 2.9, 2.8,
  2.8, 2.9, 3.0, 2.8, 2.8, 2.9, 2.9, 2.8, 2.7, 3.0,
  3.2, 2.9, 2.8, 2.9, 2.9, 2.8, 2.8, 3.0, 3.0, 2.9,
  2.8, 2.9, 2.9, 2.8, 2.7, 2.8, 3.0, 2.9, 2.8, 3.0,
  2.9, 2.8, 3.1, 3.3, 2.8, 2.9, 2.7, 2.8, 2.9, 2.8,
  3.0, 2.9, 2.8, 2.7, 2.9, 2.8, 2.7, 2.9, 3.0, 2.9,
  2.8, 3.0, 2.9, 2.8, 2.8, 2.9, 3.2, 3.0, 2.9, 2.8,
  2.8, 2.9, 3.0, 2.8, 2.7, 2.8, 2.9, 3.0, 3.4, 3.0,
  2.8, 2.9, 2.9, 2.8, 3.0, 2.9, 2.8, 3.0, 3.3, 2.9,
  2.9, 2.8, 2.8, 3.1, 3.5, 3.0, 2.9, 2.8, 3.1, 2.9,
  2.8, 2.9, 3.0, 2.8, 2.9, 3.1, 3.3, 3.0, 2.8, 2.9,
  3.0, 2.8, 2.9, 3.1, 3.4, 3.0, 2.8, 2.9, 3.0, 2.8,
  2.9, 2.8, 2.8, 3.0, 3.0, 3.2, 3.5, 3.0, 2.8, 2.9,
  2.9, 3.0, 3.0, 2.8, 2.8, 2.9, 2.9, 3.0, 3.2, 2.9,
  2.8, 2.9, 2.9, 2.8, 3.0, 2.9, 2.8, 3.0, 2.9, 2.8,
  2.9, 3.0, 2.8, 2.9, 3.0, 2.8, 2.8, 3.0, 2.9, 2.8,
  3.1, 2.9, 2.8, 3.0, 2.9, 2.8, 2.7, 2.9, 3.0, 2.8,
  2.8, 3.0, 2.9, 2.8, 2.8, 2.9, 3.0, 2.8, 2.9, 3.0,
  2.7, 2.8, 2.9, 3.0, 2.8, 2.9, 3.0, 2.8, 2.8, 3.0,
  3.1, 2.9, 2.8, 3.0, 2.9, 2.8, 2.7, 2.9, 3.0, 2.9,
  2.8, 3.0, 2.9, 2.8, 3.1, 2.9, 2.8, 3.0, 2.7, 2.9,
  3.0, 2.8, 2.8, 3.0, 2.9, 2.8, 3.0, 2.9, 2.8, 2.9,
  2.9, 2.8, 2.7, 2.9, 3.0, 2.8, 2.8, 3.0, 2.9, 2.8,
  2.8, 2.9, 3.0, 2.8, 2.9, 3.0, 2.7, 2.9, 3.0, 2.8,
  2.8, 3.0, 2.9, 2.8, 3.1, 2.9, 2.8, 3.0, 2.9, 2.8,
  2.7, 2.9, 3.0, 2.8, 2.8, 3.0, 2.9, 2.8, 3.0, 2.9,
  2.8, 3.0, 2.7, 2.9, 2.9, 2.8, 3.0, 2.9, 2.8, 3.0,
  2.9
];
const azuFlipArg176 = [
  3.0, 4.4, 5.4, 3.8, 3.0, 4.7, 5.5, 5.0, 4.8, 3.6,
  2.9, 4.3, 5.5, 6.0, 5.8, 4.9, 4.5, 5.6, 5.2, 6.3,
  7.0, 7.4, 8.3, 9.5, 10.7, 9.2, 8.5, 8.9, 9.4, 10.4,
  10.0, 9.7, 11.6, 10.5, 9.6, 8.0, 8.5, 7.6, 6.9, 6.2,
  5.6, 7.4, 9.0, 8.1, 7.0, 9.4, 11.3, 10.1, 10.0, 9.6,
  10.3, 9.1, 7.9, 9.8, 11.4, 9.9, 8.5, 9.2, 8.4, 9.0,
  9.8, 8.4, 7.0, 8.1, 9.0, 7.8, 6.9, 8.6, 10.0, 9.3,
  10.7, 8.8, 6.7, 5.9, 4.8, 6.6, 8.0, 7.2, 6.7, 7.6,
  8.3, 7.1, 6.0, 6.6, 7.0, 8.3, 9.8, 7.4, 5.2, 5.9,
  6.5, 7.3, 8.0, 6.8, 5.7, 6.2, 6.6, 7.2, 7.5, 6.8,
  6.3, 7.1, 7.7, 6.2, 5.2, 4.4, 3.8, 4.3, 4.9, 4.5,
  4.6, 5.0, 4.8, 4.1, 3.3, 5.0, 6.3, 5.4, 5.8, 6.5,
  6.6, 5.7, 5.0, 5.8, 5.6, 6.4, 6.0, 8.7, 10.8, 10.1,
  9.7, 9.3, 10.3, 10.9, 11.2, 10.2, 9.4, 10.6, 11.8, 11.1,
  12.5, 11.2, 10.5, 11.6, 11.0, 10.2, 9.6, 10.8, 12.2, 10.3,
  9.0, 8.4, 8.0, 8.7, 9.2, 8.1, 7.0, 7.9, 8.6, 7.6,
  6.8, 7.7, 8.4, 7.3, 6.5, 7.9, 9.6, 7.8, 6.3, 6.9,
  7.5, 7.0, 6.5, 6.9, 7.2, 6.1, 5.5, 6.4, 6.3, 6.8,
  7.2, 6.4, 5.8, 6.3, 6.5, 6.1, 6.0, 5.7, 5.4, 5.9,
  6.2, 5.7, 5.9, 6.2, 5.6, 5.9, 6.3, 5.8, 5.4, 5.8,
  5.9, 6.3, 6.6, 6.0, 5.9, 6.4, 6.1, 5.7, 6.3, 6.0,
  5.8, 6.2, 6.2, 5.4, 4.6, 5.6, 6.3, 6.1, 5.9, 4.7,
  4.0, 3.5, 3.7, 4.1, 4.3, 3.8, 3.4, 3.9, 4.0, 3.6,
  3.9, 4.3, 4.6, 3.9, 3.3, 3.8, 4.4, 4.0, 3.6, 3.9,
  4.0, 3.7, 3.4, 3.9, 4.2, 3.8, 3.5, 3.9, 4.1, 3.7,
  3.6, 4.0, 4.3, 4.7, 5.0, 4.2, 3.8, 4.1, 4.4, 3.9,
  3.6, 3.9, 4.1, 3.7, 3.3, 3.8, 4.5, 4.0, 3.6, 3.9,
  4.2, 3.8, 3.5, 3.7, 4.0, 3.6, 3.1, 3.9, 4.8, 4.3,
  3.9, 3.6, 3.4, 4.2, 5.0, 4.1, 3.6, 4.0, 4.4, 3.8,
  3.3, 3.9, 4.5, 4.1, 3.8, 4.0, 4.2, 3.7, 3.5, 3.8,
  4.0
];

const times = [];
for (let i = 0; i < tCount; i++) times.push(tStart + i * tStep);

Chart.defaults.font.family = '"DejaVu Sans", sans-serif';

// Title above the axes, centred on the plotting area
const axesTitle = {
  id: 'axesTitle',
  afterDraw(chart, args, opts) {
    const { ctx, chartArea: a } = chart;
    ctx.save();
    ctx.font = '6.4px "DejaVu Sans"';
    ctx.fillStyle = '#333';
    ctx.textAlign = 'center';
    ctx.textBaseline = 'alphabetic';
    ctx.fillText(opts.text, (a.left + a.right) / 2, a.top - 2.6);
    ctx.restore();
  }
};

// Four-sided frame around the plotting area
const axesFrame = {
  id: 'axesFrame',
  afterDatasetsDraw(chart) {
    const { ctx, chartArea: a } = chart;
    ctx.save();
    ctx.strokeStyle = '#8c8c8c';
    ctx.lineWidth = 1;
    ctx.strokeRect(Math.round(a.left) - 0.5, Math.round(a.top) - 0.5,
                   Math.round(a.right - a.left) + 1, Math.round(a.bottom - a.top) + 1);
    ctx.restore();
  }
};

// Legend box in the upper-right corner of the axes
const cornerLegend = {
  id: 'cornerLegend',
  afterDraw(chart) {
    const { ctx, chartArea: a } = chart;
    const items = chart.data.datasets.slice(0, residues.length);
    ctx.save();
    ctx.font = '4.6px "DejaVu Sans"';
    const tw = Math.max(...items.map(d => ctx.measureText(d.label).width));
    const w = tw + 21, h = 28;
    const x = a.right - 1.5 - w, y = a.top + 3.3;
    ctx.beginPath();
    ctx.roundRect(x + 0.5, y + 0.5, w, h, 1.5);
    ctx.fillStyle = 'rgba(255,255,255,0.85)';
    ctx.fill();
    ctx.strokeStyle = '#d2d2d2';
    ctx.lineWidth = 0.8;
    ctx.stroke();
    items.forEach((d, i) => {
      const cy = y + 4 + i * 6.8;
      ctx.beginPath();
      ctx.moveTo(x + 3, cy);
      ctx.lineTo(x + 13, cy);
      ctx.strokeStyle = d.borderColor;
      ctx.lineWidth = 1.2;
      ctx.stroke();
      ctx.fillStyle = '#333';
      ctx.textBaseline = 'middle';
      ctx.textAlign = 'left';
      ctx.fillText(d.label, x + 15.5, cy + 0.3);
    });
    ctx.restore();
  }
};

function makePanel(canvasId, title, seriesList, occupancy, yAxisWidth, rightPad, yTitlePad) {
  const datasets = seriesList.map((vals, k) => ({
    label: residues[k] + ': ' + occupancy[k],
    data: vals.map((v, i) => ({ x: times[i], y: v })),
    borderColor: residueColors[k],
    borderWidth: 1,
    pointRadius: 0,
    tension: 0,
    order: residues.length - k
  }));
  datasets.push({
    label: 'cutoff',
    data: [{ x: tStart, y: cutoff }, { x: 100, y: cutoff }],
    borderColor: '#000',
    borderWidth: 1.1,
    borderDash: [4, 2],
    pointRadius: 0,
    order: 0
  });

  return new Chart(document.getElementById(canvasId), {
    type: 'line',
    data: { datasets },
    plugins: [axesTitle, axesFrame, cornerLegend],
    options: {
      responsive: false,
      animation: false,
      devicePixelRatio: 1,
      layout: { padding: { top: 16, right: rightPad, left: 0, bottom: 0 } },
      plugins: {
        legend: { display: false },
        title: { display: false },
        tooltip: { enabled: false },
        axesTitle: { text: title }
      },
      scales: {
        x: {
          type: 'linear',
          min: 25,
          max: 100,
          afterBuildTicks: s => { s.ticks = xTickValues.map(v => ({ value: v })); },
          afterFit: s => { s.height = 18; },
          border: { display: false },
          grid: { display: true, drawOnChartArea: false, drawTicks: true, tickLength: 2, color: '#8c8c8c', lineWidth: 0.8 },
          ticks: { font: { size: 5 }, color: '#444', padding: 0.5, maxRotation: 0, autoSkip: false },
          title: { display: true, text: 'Time (100ns)', font: { size: 5.4 }, color: '#333', padding: { top: 0, bottom: 2.6 } }
        },
        y: {
          type: 'linear',
          min: 2,
          max: 14,
          afterBuildTicks: s => { s.ticks = yTickValues.map(v => ({ value: v })); },
          afterFit: s => { s.width = yAxisWidth; },
          border: { display: false },
          grid: { display: true, drawOnChartArea: false, drawTicks: true, tickLength: 2, color: '#8c8c8c', lineWidth: 0.8 },
          ticks: { font: { size: 5 }, color: '#444', padding: 1.5, autoSkip: false },
          title: { display: true, text: 'Distance (Å)', font: { size: 5.4 }, color: '#333', padding: { top: yTitlePad, bottom: 0 } }
        }
      }
    }
  });
}

makePanel('pA', panelTitles[0], [azcCancAsp62, azcCancTyr112, azcCancHis117, azcCancArg176], occupancyAzcCanc, 25, 6, 8.7);
makePanel('pB', panelTitles[1], [azuCancAsp62, azuCancTyr112, azuCancHis117, azuCancArg176], occupancyAzuCanc, 26, 3.3, 9.7);
makePanel('pC', panelTitles[2], [azcFlipAsp62, azcFlipTyr112, azcFlipHis117, azcFlipArg176], occupancyAzcFlip, 25, 6, 8.7);
makePanel('pD', panelTitles[3], [azuFlipAsp62, azuFlipTyr112, azuFlipHis117, azuFlipArg176], occupancyAzuFlip, 26, 3.3, 9.7);
</script>
</body>
</html>
